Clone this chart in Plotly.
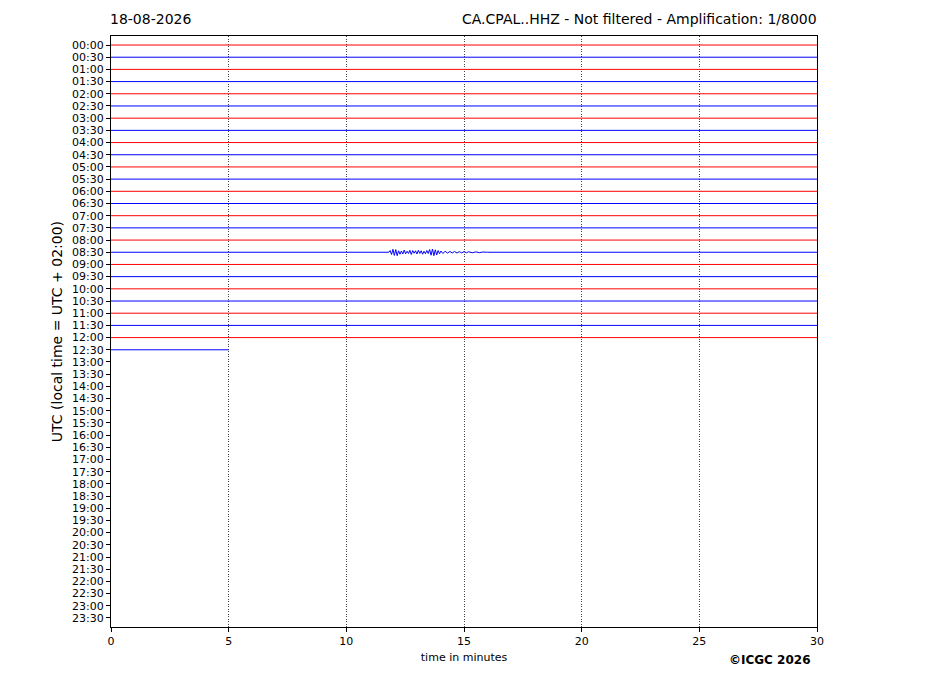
import plotly.graph_objects as go

# 48 half-hour rows of the helicorder
row_labels = ["%02d:%02d" % (h, m) for h in range(24) for m in (0, 30)]
row_colors = ["red", "blue"] * 24

# minutes of data drawn in each row (rows after 12:30 have no data yet)
row_end = [30] * 25 + [5]

# the quake on the 08:30 row: minute and trace offset (in row heights, up = +)
event_row = 17
event_t = [11.80, 11.86, 11.92, 11.98, 12.04, 12.10, 12.16, 12.22, 12.28, 12.34,
           12.40, 12.46, 12.52, 12.58, 12.64, 12.70, 12.76, 12.82, 12.88, 12.94,
           13.00, 13.06, 13.12, 13.18, 13.24, 13.30, 13.36, 13.42, 13.48, 13.54,
           13.60, 13.66, 13.72, 13.78, 13.84, 13.90, 13.96, 14.02, 14.10, 14.20,
           14.30, 14.40, 14.50, 14.60, 14.70, 14.80, 14.90, 15.00, 15.10, 15.20,
           15.35, 15.50, 15.65, 15.80, 16.00]
event_v = [0.00, 0.14, -0.18, 0.24, -0.26, 0.22, -0.28, 0.12, -0.16, 0.10,
           -0.14, 0.18, -0.12, 0.08, -0.10, 0.16, -0.18, 0.14, -0.08, 0.12,
           -0.14, 0.16, -0.10, 0.12, -0.16, 0.08, -0.12, 0.14, -0.10, 0.22,
           -0.24, 0.26, -0.28, 0.20, -0.22, 0.14, -0.12, 0.10, -0.10, 0.08,
           -0.07, 0.07, -0.06, 0.06, -0.06, 0.05, -0.05, 0.05, -0.04, 0.04,
           -0.04, 0.03, -0.03, 0.02, 0.00]

fig = go.Figure()

for i in range(len(row_end)):
    xs = [0, row_end[i]]
    ys = [i, i]
    if i == event_row:
        xs = [0] + event_t + [row_end[i]]
        ys = [i] + [i - v for v in event_v] + [i]
    fig.add_trace(go.Scatter(x=xs, y=ys, mode="lines",
                             line=dict(color=row_colors[i], width=1),
                             showlegend=False, hoverinfo="skip"))

# page body adds 8px, so margins are shifted to compensate
fig.update_layout(
    width=927, height=696,
    margin=dict(l=103, r=118, t=28, b=77),
    paper_bgcolor="white", plot_bgcolor="white",
    font=dict(family="DejaVu Sans", color="black", size=11),
    xaxis=dict(range=[0, 30], tickvals=[0, 5, 10, 15, 20, 25, 30],
               ticks="outside", ticklen=4, tickcolor="black",
               showline=True, linecolor="black", linewidth=1, mirror=True,
               showgrid=True, gridcolor="#444444", gridwidth=0.6, griddash="1px,1.5px",
               zeroline=False, tickfont=dict(size=11),
               title=dict(text="time in minutes", font=dict(size=11), standoff=6)),
    yaxis=dict(range=[47.74, -0.74], tickvals=list(range(48)), ticktext=row_labels,
               ticks="outside", ticklen=4, tickcolor="black",
               showline=True, linecolor="black", linewidth=1, mirror=True,
               showgrid=False, zeroline=False, tickfont=dict(size=11)),
)

fig.add_annotation(text="18-08-2026", xref="paper", yref="paper", x=-0.004, y=1.012,
                   xanchor="left", yanchor="bottom", showarrow=False, font=dict(size=14))
fig.add_annotation(text="CA.CPAL..HHZ - Not filtered - Amplification: 1/8000",
                   xref="paper", yref="paper", x=1.003, y=1.012,
                   xanchor="right", yanchor="bottom", showarrow=False, font=dict(size=14))
fig.add_annotation(text="UTC (local time = UTC + 02:00)", xref="paper", yref="paper",
                   x=-0.077, y=0.5, xanchor="center", yanchor="middle", textangle=-90,
                   showarrow=False, font=dict(size=14))
fig.add_annotation(text="<b>©ICGC 2026</b>", xref="paper", yref="paper",
                   x=0.934, y=-0.055, xanchor="center", yanchor="middle",
                   showarrow=False, font=dict(size=12))

fig.write_html("out.html")
